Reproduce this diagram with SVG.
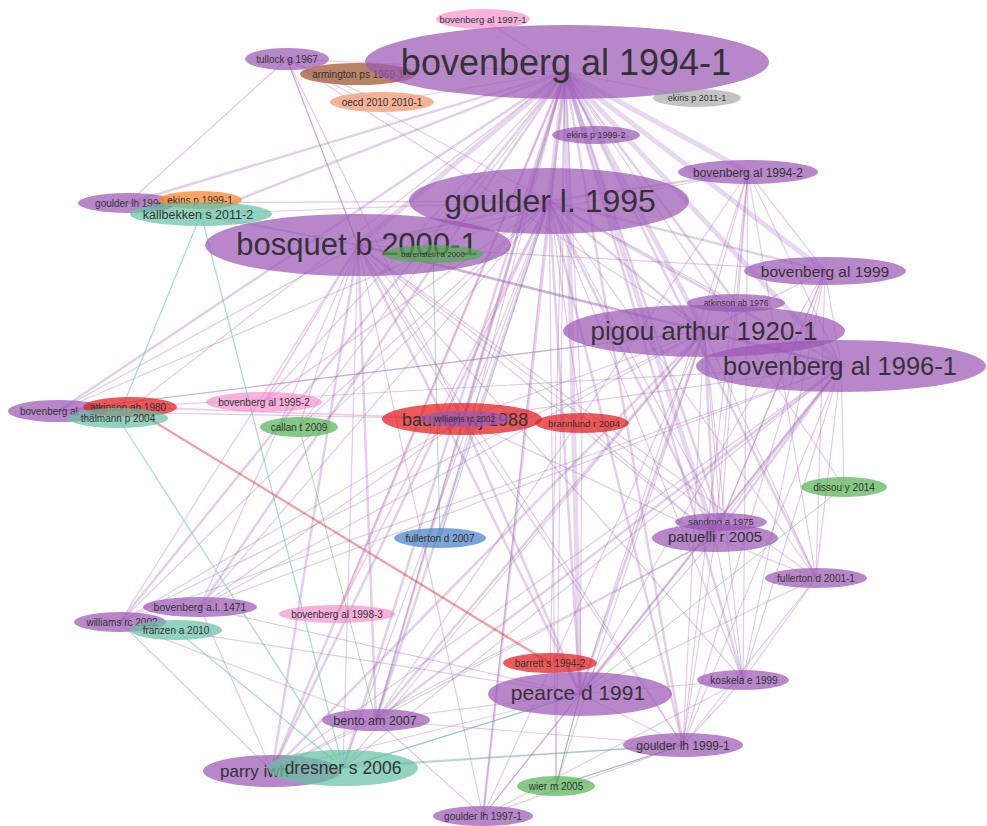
<svg xmlns="http://www.w3.org/2000/svg" width="987" height="826" viewBox="0 0 987 826">
<style>
text{font-family:"Liberation Sans",Arial,sans-serif;fill:#333;text-anchor:middle}
.pu{fill:#9b59b6;fill-opacity:.72}
.pk{fill:#f07fc6;fill-opacity:.6}
.rd{fill:#e31a1c;fill-opacity:.72}
.tl{fill:#66c2a5;fill-opacity:.72}
.gr{fill:#4daf4a;fill-opacity:.68}
.or{fill:#fd8d3c;fill-opacity:.8}
.br{fill:#a0522d;fill-opacity:.72}
.sa{fill:#f4a582;fill-opacity:.85}
.gy{fill:#999;fill-opacity:.6}
.bl{fill:#4682c8;fill-opacity:.72}
#edges line{stroke-linecap:round}
.p1{stroke:#a064b4;stroke-opacity:.33;stroke-width:1.2}
.p2{stroke:#a064b4;stroke-opacity:.3;stroke-width:2.5}
.p3{stroke:#a668c0;stroke-opacity:.26;stroke-width:5}
.t{stroke:#66c2a5;stroke-opacity:.55;stroke-width:1.3}
.r{stroke:#e31a1c;stroke-opacity:.42;stroke-width:2.2}
.k{stroke:#f08cc8;stroke-opacity:.5;stroke-width:1.5}
.g{stroke:#4daf4a;stroke-opacity:.45;stroke-width:1}
.b{stroke:#4682c8;stroke-opacity:.4;stroke-width:1}
</style>
<rect width="987" height="826" fill="#fff"/>
<g id="edges">
<line class="p3" x1="565" y1="72" x2="549" y2="201"/>
<line class="p3" x1="565" y1="72" x2="704" y2="331"/>
<line class="p3" x1="565" y1="72" x2="841" y2="366"/>
<line class="p3" x1="565" y1="72" x2="825" y2="271"/>
<line class="p3" x1="565" y1="72" x2="358" y2="245"/>
<line class="p3" x1="565" y1="72" x2="748" y2="172"/>
<line class="p3" x1="565" y1="72" x2="580" y2="694"/>
<line class="p3" x1="565" y1="72" x2="715" y2="538"/>
<line class="p2" x1="565" y1="72" x2="463" y2="419"/>
<line class="p2" x1="565" y1="72" x2="272" y2="771"/>
<line class="p2" x1="565" y1="72" x2="376" y2="720"/>
<line class="p2" x1="565" y1="72" x2="683" y2="745"/>
<line class="p2" x1="565" y1="72" x2="743" y2="680"/>
<line class="p2" x1="565" y1="72" x2="816" y2="578"/>
<line class="p2" x1="565" y1="72" x2="721" y2="522"/>
<line class="p2" x1="565" y1="72" x2="483" y2="816"/>
<line class="p2" x1="565" y1="72" x2="58" y2="411"/>
<line class="p2" x1="565" y1="72" x2="120" y2="622"/>
<line class="p2" x1="565" y1="72" x2="200" y2="607"/>
<line class="p2" x1="565" y1="72" x2="736" y2="303"/>
<line class="p2" x1="565" y1="72" x2="343" y2="768"/>
<line class="p2" x1="565" y1="72" x2="128" y2="203"/>
<line class="p2" x1="565" y1="72" x2="201" y2="214"/>
<line class="p1" x1="565" y1="72" x2="287" y2="59"/>
<line class="p1" x1="565" y1="72" x2="382" y2="102"/>
<line class="p1" x1="565" y1="72" x2="596" y2="135"/>
<line class="p1" x1="565" y1="72" x2="697" y2="98"/>
<line class="p1" x1="565" y1="72" x2="264" y2="402"/>
<line class="p1" x1="565" y1="72" x2="299" y2="427"/>
<line class="p1" x1="565" y1="72" x2="582" y2="423"/>
<line class="p1" x1="565" y1="72" x2="440" y2="538"/>
<line class="p1" x1="565" y1="72" x2="550" y2="663"/>
<line class="p1" x1="565" y1="72" x2="556" y2="786"/>
<line class="p1" x1="565" y1="72" x2="844" y2="487"/>
<line class="p1" x1="565" y1="72" x2="118" y2="418"/>
<line class="p2" x1="549" y1="201" x2="358" y2="245"/>
<line class="p2" x1="549" y1="201" x2="704" y2="331"/>
<line class="p2" x1="549" y1="201" x2="841" y2="366"/>
<line class="p2" x1="549" y1="201" x2="715" y2="538"/>
<line class="p2" x1="549" y1="201" x2="580" y2="694"/>
<line class="p2" x1="549" y1="201" x2="683" y2="745"/>
<line class="p2" x1="549" y1="201" x2="272" y2="771"/>
<line class="p2" x1="549" y1="201" x2="376" y2="720"/>
<line class="p2" x1="549" y1="201" x2="825" y2="271"/>
<line class="p2" x1="549" y1="201" x2="748" y2="172"/>
<line class="p1" x1="549" y1="201" x2="743" y2="680"/>
<line class="p1" x1="549" y1="201" x2="816" y2="578"/>
<line class="p1" x1="549" y1="201" x2="721" y2="522"/>
<line class="p1" x1="549" y1="201" x2="463" y2="419"/>
<line class="p1" x1="549" y1="201" x2="120" y2="622"/>
<line class="p1" x1="549" y1="201" x2="200" y2="607"/>
<line class="p1" x1="549" y1="201" x2="58" y2="411"/>
<line class="p1" x1="549" y1="201" x2="299" y2="427"/>
<line class="p1" x1="549" y1="201" x2="483" y2="816"/>
<line class="p1" x1="549" y1="201" x2="343" y2="768"/>
<line class="p1" x1="549" y1="201" x2="128" y2="203"/>
<line class="p1" x1="549" y1="201" x2="201" y2="214"/>
<line class="p1" x1="549" y1="201" x2="582" y2="423"/>
<line class="p1" x1="549" y1="201" x2="736" y2="303"/>
<line class="p1" x1="549" y1="201" x2="287" y2="59"/>
<line class="p1" x1="549" y1="201" x2="556" y2="786"/>
<line class="p2" x1="358" y1="245" x2="704" y2="331"/>
<line class="p2" x1="358" y1="245" x2="841" y2="366"/>
<line class="p2" x1="358" y1="245" x2="580" y2="694"/>
<line class="p2" x1="358" y1="245" x2="272" y2="771"/>
<line class="p2" x1="358" y1="245" x2="376" y2="720"/>
<line class="p1" x1="358" y1="245" x2="825" y2="271"/>
<line class="p1" x1="358" y1="245" x2="748" y2="172"/>
<line class="p1" x1="358" y1="245" x2="463" y2="419"/>
<line class="p1" x1="358" y1="245" x2="58" y2="411"/>
<line class="p1" x1="358" y1="245" x2="120" y2="622"/>
<line class="p1" x1="358" y1="245" x2="683" y2="745"/>
<line class="p1" x1="358" y1="245" x2="715" y2="538"/>
<line class="p1" x1="358" y1="245" x2="743" y2="680"/>
<line class="p1" x1="358" y1="245" x2="816" y2="578"/>
<line class="p1" x1="358" y1="245" x2="343" y2="768"/>
<line class="p1" x1="358" y1="245" x2="483" y2="816"/>
<line class="p1" x1="358" y1="245" x2="200" y2="607"/>
<line class="p1" x1="358" y1="245" x2="287" y2="59"/>
<line class="p1" x1="358" y1="245" x2="128" y2="203"/>
<line class="p1" x1="358" y1="245" x2="299" y2="427"/>
<line class="p1" x1="358" y1="245" x2="721" y2="522"/>
<line class="p2" x1="704" y1="331" x2="841" y2="366"/>
<line class="p2" x1="704" y1="331" x2="580" y2="694"/>
<line class="p2" x1="704" y1="331" x2="715" y2="538"/>
<line class="p2" x1="704" y1="331" x2="376" y2="720"/>
<line class="p2" x1="704" y1="331" x2="272" y2="771"/>
<line class="p1" x1="704" y1="331" x2="683" y2="745"/>
<line class="p1" x1="704" y1="331" x2="743" y2="680"/>
<line class="p1" x1="704" y1="331" x2="816" y2="578"/>
<line class="p1" x1="704" y1="331" x2="463" y2="419"/>
<line class="p1" x1="704" y1="331" x2="120" y2="622"/>
<line class="p1" x1="704" y1="331" x2="200" y2="607"/>
<line class="p1" x1="704" y1="331" x2="721" y2="522"/>
<line class="p1" x1="704" y1="331" x2="748" y2="172"/>
<line class="p1" x1="704" y1="331" x2="825" y2="271"/>
<line class="p1" x1="704" y1="331" x2="483" y2="816"/>
<line class="p1" x1="704" y1="331" x2="58" y2="411"/>
<line class="p1" x1="704" y1="331" x2="343" y2="768"/>
<line class="p1" x1="704" y1="331" x2="556" y2="786"/>
<line class="p2" x1="841" y1="366" x2="580" y2="694"/>
<line class="p2" x1="841" y1="366" x2="715" y2="538"/>
<line class="p2" x1="841" y1="366" x2="376" y2="720"/>
<line class="p1" x1="841" y1="366" x2="683" y2="745"/>
<line class="p1" x1="841" y1="366" x2="743" y2="680"/>
<line class="p1" x1="841" y1="366" x2="816" y2="578"/>
<line class="p1" x1="841" y1="366" x2="272" y2="771"/>
<line class="p1" x1="841" y1="366" x2="120" y2="622"/>
<line class="p1" x1="841" y1="366" x2="200" y2="607"/>
<line class="p1" x1="841" y1="366" x2="463" y2="419"/>
<line class="p1" x1="841" y1="366" x2="825" y2="271"/>
<line class="p1" x1="841" y1="366" x2="748" y2="172"/>
<line class="p1" x1="841" y1="366" x2="721" y2="522"/>
<line class="p1" x1="841" y1="366" x2="844" y2="487"/>
<line class="p1" x1="841" y1="366" x2="483" y2="816"/>
<line class="p1" x1="841" y1="366" x2="343" y2="768"/>
<line class="p1" x1="748" y1="172" x2="715" y2="538"/>
<line class="p1" x1="748" y1="172" x2="816" y2="578"/>
<line class="p1" x1="748" y1="172" x2="743" y2="680"/>
<line class="p1" x1="748" y1="172" x2="580" y2="694"/>
<line class="p1" x1="748" y1="172" x2="683" y2="745"/>
<line class="p1" x1="748" y1="172" x2="825" y2="271"/>
<line class="p1" x1="748" y1="172" x2="721" y2="522"/>
<line class="p1" x1="748" y1="172" x2="376" y2="720"/>
<line class="p1" x1="825" y1="271" x2="816" y2="578"/>
<line class="p1" x1="825" y1="271" x2="743" y2="680"/>
<line class="p1" x1="825" y1="271" x2="715" y2="538"/>
<line class="p1" x1="825" y1="271" x2="683" y2="745"/>
<line class="p1" x1="825" y1="271" x2="580" y2="694"/>
<line class="p1" x1="825" y1="271" x2="721" y2="522"/>
<line class="p1" x1="580" y1="694" x2="683" y2="745"/>
<line class="p1" x1="580" y1="694" x2="743" y2="680"/>
<line class="p1" x1="580" y1="694" x2="376" y2="720"/>
<line class="p1" x1="580" y1="694" x2="272" y2="771"/>
<line class="p1" x1="580" y1="694" x2="556" y2="786"/>
<line class="p1" x1="580" y1="694" x2="483" y2="816"/>
<line class="p1" x1="580" y1="694" x2="715" y2="538"/>
<line class="p1" x1="580" y1="694" x2="816" y2="578"/>
<line class="p1" x1="580" y1="694" x2="343" y2="768"/>
<line class="p1" x1="715" y1="538" x2="683" y2="745"/>
<line class="p1" x1="715" y1="538" x2="743" y2="680"/>
<line class="p1" x1="715" y1="538" x2="376" y2="720"/>
<line class="p1" x1="715" y1="538" x2="272" y2="771"/>
<line class="p1" x1="715" y1="538" x2="816" y2="578"/>
<line class="p1" x1="376" y1="720" x2="272" y2="771"/>
<line class="p1" x1="376" y1="720" x2="483" y2="816"/>
<line class="p1" x1="376" y1="720" x2="683" y2="745"/>
<line class="p1" x1="376" y1="720" x2="120" y2="622"/>
<line class="p1" x1="683" y1="745" x2="743" y2="680"/>
<line class="p1" x1="683" y1="745" x2="556" y2="786"/>
<line class="p1" x1="683" y1="745" x2="272" y2="771"/>
<line class="p1" x1="683" y1="745" x2="483" y2="816"/>
<line class="p1" x1="120" y1="622" x2="272" y2="771"/>
<line class="p1" x1="120" y1="622" x2="463" y2="419"/>
<line class="p1" x1="120" y1="622" x2="580" y2="694"/>
<line class="p1" x1="200" y1="607" x2="272" y2="771"/>
<line class="p1" x1="200" y1="607" x2="580" y2="694"/>
<line class="p1" x1="200" y1="607" x2="463" y2="419"/>
<line class="p1" x1="287" y1="59" x2="128" y2="203"/>
<line class="p1" x1="287" y1="59" x2="358" y2="245"/>
<line class="p1" x1="287" y1="59" x2="463" y2="419"/>
<line class="p1" x1="287" y1="59" x2="704" y2="331"/>
<line class="p1" x1="287" y1="59" x2="382" y2="102"/>
<line class="p1" x1="58" y1="411" x2="463" y2="419"/>
<line class="p1" x1="58" y1="411" x2="704" y2="331"/>
<line class="p1" x1="58" y1="411" x2="841" y2="366"/>
<line class="p2" x1="463" y1="419" x2="580" y2="694"/>
<line class="p1" x1="463" y1="419" x2="715" y2="538"/>
<line class="p1" x1="463" y1="419" x2="683" y2="745"/>
<line class="p1" x1="463" y1="419" x2="376" y2="720"/>
<line class="p1" x1="582" y1="423" x2="580" y2="694"/>
<line class="p1" x1="582" y1="423" x2="715" y2="538"/>
<line class="p1" x1="743" y1="680" x2="816" y2="578"/>
<line class="p1" x1="743" y1="680" x2="483" y2="816"/>
<line class="p1" x1="816" y1="578" x2="683" y2="745"/>
<line class="t" x1="201" y1="214" x2="343" y2="768"/>
<line class="t" x1="201" y1="214" x2="118" y2="418"/>
<line class="t" x1="118" y1="418" x2="343" y2="768"/>
<line class="t" x1="176" y1="630" x2="343" y2="768"/>
<line class="t" x1="343" y1="768" x2="580" y2="694"/>
<line class="t" x1="343" y1="768" x2="683" y2="745"/>
<line class="t" x1="201" y1="214" x2="358" y2="245"/>
<line class="r" x1="130" y1="407" x2="550" y2="663"/>
<line class="k" x1="130" y1="407" x2="463" y2="419"/>
<line class="k" x1="264" y1="402" x2="358" y2="245"/>
<line class="k" x1="264" y1="402" x2="549" y2="201"/>
<line class="k" x1="337" y1="614" x2="549" y2="201"/>
<line class="k" x1="337" y1="614" x2="565" y2="72"/>
<line class="k" x1="483" y1="19" x2="565" y2="72"/>
<line class="g" x1="844" y1="487" x2="580" y2="694"/>
<line class="g" x1="433" y1="254" x2="440" y2="538"/>
<line class="g" x1="299" y1="427" x2="376" y2="720"/>
<line class="g" x1="556" y1="786" x2="580" y2="694"/>
<line class="g" x1="556" y1="786" x2="683" y2="745"/>
<line class="b" x1="440" y1="538" x2="549" y2="201"/>
</g>
<g id="n-bovenberg-al-1997-1"><ellipse class="pk" cx="483" cy="19" rx="47" ry="10"/><text x="483" y="22.5" font-size="9.5">bovenberg al 1997-1</text></g>
<g id="n-tullock-g-1967"><ellipse class="pu" cx="287" cy="59" rx="42" ry="11"/><text x="287" y="62.5" font-size="10">tullock g 1967</text></g>
<g id="n-armington-ps-1969-1"><ellipse class="br" cx="358" cy="74" rx="58" ry="11"/><text x="358" y="77.5" font-size="10">armington ps 1969-1</text></g>
<g id="n-bovenberg-al-1994-1"><ellipse class="pu" cx="567" cy="62" rx="202" ry="37"/><text x="566" y="75" font-size="36">bovenberg al 1994-1</text></g>
<g id="n-oecd-2010-2010-1"><ellipse class="sa" cx="382" cy="102" rx="52" ry="10"/><text x="382" y="105.5" font-size="10">oecd 2010 2010-1</text></g>
<g id="n-ekins-p-2011-1"><ellipse class="gy" cx="697" cy="98" rx="44" ry="9"/><text x="697" y="101" font-size="9">ekins p 2011-1</text></g>
<g id="n-ekins-p-1999-2"><ellipse class="pu" cx="596" cy="135" rx="44" ry="9"/><text x="596" y="138" font-size="9">ekins p 1999-2</text></g>
<g id="n-bovenberg-al-1994-2"><ellipse class="pu" cx="748" cy="172" rx="70" ry="12"/><text x="748" y="176.5" font-size="12">bovenberg al 1994-2</text></g>
<g id="n-goulder-l-1995"><ellipse class="pu" cx="549" cy="201" rx="140" ry="33"/><text x="550" y="212" font-size="32">goulder l. 1995</text></g>
<g id="n-goulder-lh-1996-1"><ellipse class="pu" cx="128" cy="203" rx="50" ry="10"/><text x="134" y="206.5" font-size="10">goulder lh 1996-1</text></g>
<g id="n-ekins-p-1999-1"><ellipse class="or" cx="200" cy="200" rx="42" ry="9"/><text x="200" y="203.5" font-size="10">ekins p 1999-1</text></g>
<g id="n-kallbekken-s-2011-2"><ellipse class="tl" cx="201" cy="214" rx="71" ry="12"/><text x="198" y="218.5" font-size="12.5">kallbekken s 2011-2</text></g>
<g id="n-bosquet-b-2000-1"><ellipse class="pu" cx="358" cy="245" rx="153" ry="31"/><text x="357" y="255" font-size="31">bosquet b 2000-1</text></g>
<g id="n-barenstein-a-2000"><ellipse class="gr" cx="433" cy="254" rx="50" ry="9"/><text x="433" y="257" font-size="8">barenstein a 2000</text></g>
<g id="n-bovenberg-al-1999"><ellipse class="pu" cx="825" cy="271" rx="81" ry="14"/><text x="825" y="276.5" font-size="15.5">bovenberg al 1999</text></g>
<g id="n-atkinson-ab-1976"><ellipse class="pu" cx="736" cy="303" rx="49" ry="9"/><text x="736" y="306" font-size="8.5">atkinson ab 1976</text></g>
<g id="n-pigou-arthur-1920-1"><ellipse class="pu" cx="704" cy="331" rx="141" ry="26"/><text x="704" y="340" font-size="26">pigou arthur 1920-1</text></g>
<g id="n-bovenberg-al-1996-1"><ellipse class="pu" cx="841" cy="366" rx="145" ry="26"/><text x="840" y="375" font-size="25.5">bovenberg al 1996-1</text></g>
<g id="n-bovenberg-al-1995-2"><ellipse class="pk" cx="264" cy="402" rx="58" ry="10"/><text x="264" y="405.5" font-size="10">bovenberg al 1995-2</text></g>
<g id="n-bovenberg-al"><ellipse class="pu" cx="58" cy="411" rx="50" ry="11"/><text x="20" y="415" font-size="10" style="text-anchor:start">bovenberg al</text></g>
<g id="n-atkinson-ab-1980"><ellipse class="rd" cx="130" cy="407" rx="47" ry="10"/><text x="128" y="410.5" font-size="10">atkinson ab 1980</text></g>
<g id="n-thalmann-p-2004"><ellipse class="tl" cx="118" cy="418" rx="50" ry="10"/><text x="118" y="421.5" font-size="10">thälmann p 2004</text></g>
<g id="n-callan-t-2009"><ellipse class="gr" cx="299" cy="427" rx="39" ry="10"/><text x="299" y="430.5" font-size="10">callan t 2009</text></g>
<g id="n-baumol-wj-1988"><ellipse class="rd" cx="462" cy="419" rx="80" ry="16"/><text x="465" y="425.5" font-size="18">baumol wj 1988</text></g>
<g id="n-williams-rc-2002-a"><ellipse class="pu" cx="465" cy="419" rx="45" ry="8"/><text x="465" y="422" font-size="8.5">williams rc 2002</text></g>
<g id="n-brannlund-r-2004"><ellipse class="rd" cx="582" cy="423" rx="47" ry="10"/><text x="584" y="426.5" font-size="9.5">brannlund r 2004</text></g>
<g id="n-dissou-y-2014"><ellipse class="gr" cx="844" cy="487" rx="43" ry="10"/><text x="844" y="490.5" font-size="10">dissou y 2014</text></g>
<g id="n-sandmo-a-1975"><ellipse class="pu" cx="721" cy="522" rx="46" ry="9"/><text x="721" y="525" font-size="9.5">sandmo a 1975</text></g>
<g id="n-patuelli-r-2005"><ellipse class="pu" cx="715" cy="538" rx="63" ry="14"/><text x="715" y="542" font-size="15">patuelli r 2005</text></g>
<g id="n-fullerton-d-2001-1"><ellipse class="pu" cx="816" cy="578" rx="51" ry="10"/><text x="816" y="581.5" font-size="10">fullerton d 2001-1</text></g>
<g id="n-fullerton-d-2007"><ellipse class="bl" cx="440" cy="538" rx="46" ry="10"/><text x="440" y="541.5" font-size="10">fullerton d 2007</text></g>
<g id="n-bovenberg-al-1471"><ellipse class="pu" cx="200" cy="607" rx="57" ry="10"/><text x="200" y="610.5" font-size="10.5">bovenberg a.l. 1471</text></g>
<g id="n-williams-rc-2002"><ellipse class="pu" cx="120" cy="622" rx="46" ry="10"/><text x="122" y="625.5" font-size="10">williams rc 2002</text></g>
<g id="n-franzen-a-2010"><ellipse class="tl" cx="176" cy="630" rx="46" ry="10"/><text x="176" y="633.5" font-size="10">franzen a 2010</text></g>
<g id="n-bovenberg-al-1998-3"><ellipse class="pk" cx="337" cy="614" rx="58" ry="9"/><text x="337" y="617.5" font-size="10">bovenberg al 1998-3</text></g>
<g id="n-barrett-s-1994-2"><ellipse class="rd" cx="550" cy="663" rx="47" ry="10"/><text x="550" y="666.5" font-size="10">barrett s 1994-2</text></g>
<g id="n-pearce-d-1991"><ellipse class="pu" cx="580" cy="694" rx="92" ry="22"/><text x="578" y="700" font-size="21">pearce d 1991</text></g>
<g id="n-koskela-e-1999"><ellipse class="pu" cx="743" cy="680" rx="46" ry="10"/><text x="744" y="683.5" font-size="10">koskela e 1999</text></g>
<g id="n-bento-am-2007"><ellipse class="pu" cx="376" cy="720" rx="54" ry="11"/><text x="375" y="724.5" font-size="12.5">bento am 2007</text></g>
<g id="n-goulder-lh-1999-1"><ellipse class="pu" cx="683" cy="745" rx="60" ry="12"/><text x="683" y="749.5" font-size="12">goulder lh 1999-1</text></g>
<g id="n-parry-iwh"><ellipse class="pu" cx="272" cy="771" rx="69" ry="16"/><text x="220" y="777" font-size="17" style="text-anchor:start">parry iwh</text></g>
<g id="n-dresner-s-2006"><ellipse class="tl" cx="343" cy="768" rx="75" ry="18"/><text x="343" y="774" font-size="17.5">dresner s 2006</text></g>
<g id="n-wier-m-2005"><ellipse class="gr" cx="556" cy="786" rx="39" ry="10"/><text x="556" y="789.5" font-size="10">wier m 2005</text></g>
<g id="n-goulder-lh-1997-1"><ellipse class="pu" cx="483" cy="816" rx="50" ry="10"/><text x="483" y="819.5" font-size="10">goulder lh 1997-1</text></g>
</svg>
